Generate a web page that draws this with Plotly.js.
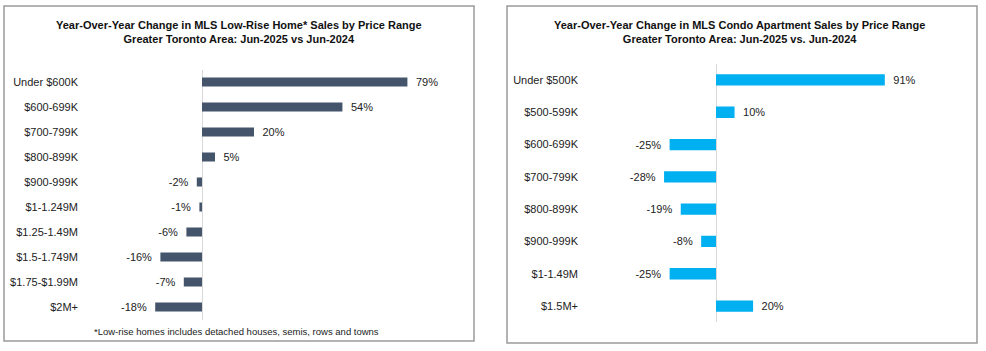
<!DOCTYPE html>
<html>
<head>
<meta charset="utf-8">
<script src="https://cdn.plot.ly/plotly-3.0.1.min.js"></script>
<style>html,body{margin:0;padding:0;background:#fff;}#chart{width:986px;height:351px;}</style>
</head>
<body>
<div id="chart"></div>
<script>
// ---- Data ----
const lowRiseCategories = ["Under $600K","$600-699K","$700-799K","$800-899K","$900-999K","$1-1.249M","$1.25-1.49M","$1.5-1.749M","$1.75-$1.99M","$2M+"];
const lowRiseValues = [79, 54, 20, 5, -2, -1, -6, -16, -7, -18];
const condoCategories = ["Under $500K","$500-599K","$600-699K","$700-799K","$800-899K","$900-999K","$1-1.49M","$1.5M+"];
const condoValues = [91, 10, -25, -28, -19, -8, -25, 20];
const leftTitle = "Year-Over-Year Change in MLS Low-Rise Home* Sales by Price Range<br>Greater Toronto Area: Jun-2025 vs Jun-2024";
const rightTitle = "Year-Over-Year Change in MLS Condo Apartment Sales by Price Range<br>Greater Toronto Area: Jun-2025 vs. Jun-2024";
const footnote = "*Low-rise homes includes detached houses, semis, rows and towns";

// ---- Layout helpers ----
const W = 986, H = 351;
const FONT = "'Liberation Sans Narrow', 'Arial Narrow', 'Liberation Sans', Arial, sans-serif";
const px = x => x / W;
const py = y => 1 - y / H;
function xRange(domL, domR, zeroPx, pxPer) {
  return [-(zeroPx - domL) / pxPer, (domR - zeroPx) / pxPer];
}
const lab = v => v >= 0 ? '\u2002' + v + '%' : v + '%\u2002';

const traces = [
  {
    type: 'bar', orientation: 'h', x: lowRiseValues, y: lowRiseCategories,
    xaxis: 'x', yaxis: 'y', marker: {color: '#44546A'}, width: 0.36,
    text: lowRiseValues.map(lab), textposition: 'outside', cliponaxis: false, constraintext: 'none',
    textfont: {family: FONT, size: 11, color: '#222'}, hoverinfo: 'none'
  },
  {
    type: 'bar', orientation: 'h', x: condoValues, y: condoCategories,
    xaxis: 'x2', yaxis: 'y2', marker: {color: '#00B0F0'}, width: 0.35,
    text: condoValues.map(lab), textposition: 'outside', cliponaxis: false, constraintext: 'none',
    textfont: {family: FONT, size: 11, color: '#222'}, hoverinfo: 'none'
  }
];

const layout = {
  width: W, height: H, margin: {l: 0, r: 0, t: 0, b: 0},
  paper_bgcolor: '#fff', plot_bgcolor: 'rgba(0,0,0,0)', showlegend: false,
  font: {family: FONT, size: 11, color: '#222'},
  xaxis: {domain: [px(79), px(462)], range: xRange(79, 462, 202, 2.6), showgrid: false,
          showticklabels: false, zeroline: true, zerolinecolor: '#d9d9d9', zerolinewidth: 1, fixedrange: true},
  yaxis: {domain: [py(319.5), py(69.5)], range: [lowRiseCategories.length - 0.5, -0.5], type: 'category',
          showgrid: false, zeroline: false, showline: false, ticks: '',
          tickfont: {family: FONT, size: 11, color: '#222'}, anchor: 'x'},
  xaxis2: {domain: [px(579), px(962)], range: xRange(579, 962, 716, 1.855), showgrid: false,
           showticklabels: false, zeroline: true, zerolinecolor: '#d9d9d9', zerolinewidth: 1, anchor: 'y2'},
  yaxis2: {domain: [py(322.2), py(63.8)], range: [condoCategories.length - 0.5, -0.5], type: 'category',
           showgrid: false, zeroline: false, showline: false, ticks: '',
           tickfont: {family: FONT, size: 11, color: '#222'}, anchor: 'x2'},
  shapes: [
    {type: 'rect', xref: 'paper', yref: 'paper', x0: px(4), x1: px(474), y0: py(341), y1: py(6),
     line: {color: '#9a9a9a', width: 1.5}, fillcolor: 'rgba(0,0,0,0)'},
    {type: 'rect', xref: 'paper', yref: 'paper', x0: px(507), x1: px(977), y0: py(343), y1: py(6),
     line: {color: '#9a9a9a', width: 1.5}, fillcolor: 'rgba(0,0,0,0)'}
  ],
  annotations: [
    {text: '<b>' + leftTitle.replace('<br>', '</b><br><b>') + '</b>', xref: 'paper', yref: 'paper',
     x: px(239), y: py(32), xanchor: 'center', yanchor: 'middle', showarrow: false,
     font: {family: FONT, size: 11, color: '#111'}, align: 'center'},
    {text: '<b>' + rightTitle.replace('<br>', '</b><br><b>') + '</b>', xref: 'paper', yref: 'paper',
     x: px(739), y: py(32), xanchor: 'center', yanchor: 'middle', showarrow: false,
     font: {family: FONT, size: 11, color: '#111'}, align: 'center'},
    {text: footnote, xref: 'paper', yref: 'paper', x: px(236), y: py(331), xanchor: 'center', yanchor: 'middle',
     showarrow: false, font: {family: FONT, size: 9.5, color: '#222'}}
  ]
};

Plotly.newPlot('chart', traces, layout, {staticPlot: true, displayModeBar: false});
</script>
</body>
</html>
